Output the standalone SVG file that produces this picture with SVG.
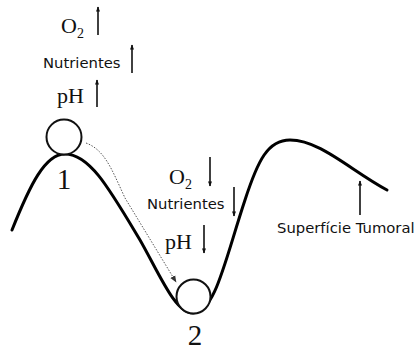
<svg xmlns="http://www.w3.org/2000/svg" width="414" height="351" viewBox="0 0 414 351">
<style>
.serif{font-family:"Liberation Serif","Times New Roman",serif;font-size:22px;fill:#111}
.num{font-family:"Liberation Serif","Times New Roman",serif;font-size:29px;fill:#111}
.sans{font-family:"DejaVu Sans",sans-serif;font-size:14.8px;fill:#111}
.arr{stroke:#111;stroke-width:1.6;fill:none;marker-end:url(#ah)}
</style>
<defs>
<marker id="ah" viewBox="0 0 10 10" refX="9" refY="5" markerWidth="7" markerHeight="5" orient="auto" markerUnits="userSpaceOnUse">
<path d="M0,1 L10,5 L0,9 z" fill="#111"/>
</marker>
<marker id="ah2" viewBox="0 0 10 10" refX="9" refY="5" markerWidth="7" markerHeight="7" orient="auto" markerUnits="userSpaceOnUse">
<path d="M0,1 L10,5 L0,9 z" fill="#333"/>
</marker>
</defs>
<rect width="414" height="351" fill="#fff"/>
<g id="surface">
<path d="M12,230 C30,185 45,154 65,154 C90,154 110,190 140,240 C160,275 175,313 193,313 C215,313 225,260 245,200 C258,160 268,140 290,140 C320,140 350,170 387,190" fill="none" stroke="#000" stroke-width="3" stroke-linecap="round"/>
</g>
<g id="cell1">
<circle cx="64" cy="137" r="17.5" fill="#fff" stroke="#111" stroke-width="2"/>
<text class="num" x="64" y="189" text-anchor="middle">1</text>
</g>
<g id="cell2">
<circle cx="193.5" cy="296.5" r="17" fill="#fff" stroke="#111" stroke-width="2"/>
<text class="num" x="195" y="345" text-anchor="middle">2</text>
</g>
<g id="labels1">
<text class="serif" x="61" y="33">O<tspan font-size="14" dy="5">2</tspan></text>
<text class="sans" x="43" y="68">Nutrientes</text>
<text class="serif" x="57" y="103">pH</text>
</g>
<g id="labels2">
<text class="serif" x="169" y="184">O<tspan font-size="14" dy="5">2</tspan></text>
<text class="sans" x="147" y="209">Nutrientes</text>
<text class="serif" x="165" y="249">pH</text>
</g>
<g id="tumor-label">
<text class="sans" x="277" y="233">Superfície Tumoral</text>
</g>
<g id="connectors">
<line class="arr" x1="98" y1="35" x2="98" y2="7"/>
<line class="arr" x1="132" y1="73" x2="132" y2="45"/>
<line class="arr" x1="97" y1="107" x2="97" y2="80"/>
<line class="arr" x1="210" y1="157" x2="210" y2="186"/>
<line class="arr" x1="234" y1="187" x2="234" y2="216"/>
<line class="arr" x1="204" y1="225" x2="204" y2="253"/>
<line class="arr" x1="360" y1="215" x2="360" y2="181"/>
<path d="M86,143 C105,150 112,170 125,198 L176,282" fill="none" stroke="#555" stroke-width="1" stroke-dasharray="1.5,1.5" marker-end="url(#ah2)"/>
</g>
</svg>
